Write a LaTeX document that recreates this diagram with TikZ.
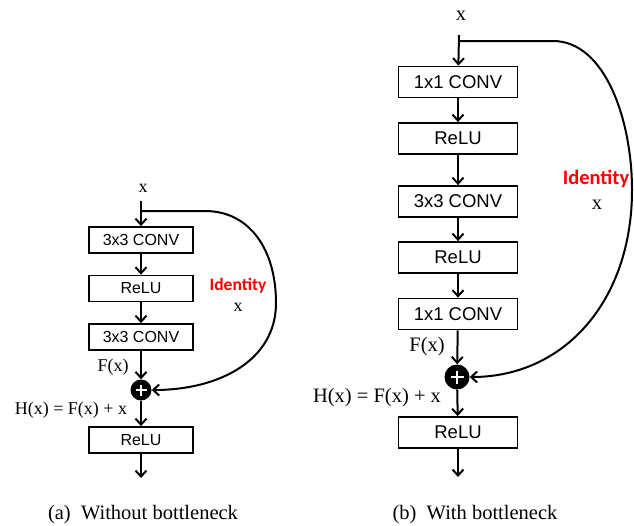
\documentclass[tikz,border=0pt]{standalone}
\usepackage{fontspec}
\setmainfont{Liberation Serif}
\newfontfamily\boxfont{Liberation Sans}
\newfontfamily\idfont{Carlito}
\usetikzlibrary{arrows.meta,calc}
\tikzset{
  blk/.style={draw, line width=1.8pt, minimum height=26pt, minimum width=104pt, inner sep=0pt, font=\boxfont\fontsize{16}{18}\selectfont},
  blkb/.style={draw, line width=1.8pt, minimum height=31pt, minimum width=119pt, inner sep=0pt, font=\boxfont\fontsize{18.5}{21}\selectfont},
  arr/.style={line width=2pt, -{Straight Barb[length=6pt,width=11pt,line width=2pt]}},
  lab/.style={inner sep=0pt, font=\fontsize{18}{20}\selectfont},
  labb/.style={inner sep=0pt, font=\fontsize{20.5}{22}\selectfont},
  ident/.style={inner sep=0pt, text=red, font=\idfont\bfseries\fontsize{17.5}{19}\selectfont},
  identb/.style={inner sep=0pt, text=red, font=\idfont\bfseries\fontsize{20.5}{22}\selectfont},
  plusc/.style={circle, fill=black, inner sep=0pt},
  captxt/.style={inner sep=0pt, font=\fontsize{20.5}{23}\selectfont}
}
\begin{document}
\begin{tikzpicture}[x=1pt,y=-1pt]
\useasboundingbox (0,0) rectangle (634,525);
% ---------- (a) ----------
\node[lab] (ax) at (143,188) {x};
\coordinate (as) at (141,201);
\coordinate (abr) at (141,211);
\node[blk] (a1) at (141,240) {3x3 CONV};
\node[blk] (a2) at (141,288.5) {ReLU};
\node[blk] (a3) at (141,337) {3x3 CONV};
\node[plusc, minimum size=21pt] (ap) at (141,390) {};
\draw[white, line width=2.4pt] ($(ap)+(-5.5,0)$) -- ($(ap)+(5.5,0)$) ($(ap)+(0,-5.5)$) -- ($(ap)+(0,5.5)$);
\node[blk] (a4) at (141,440) {ReLU};
\coordinate (aend) at (141,478);
\node[lab] (afx) at (113,367) {F(x)};
\node[lab] (ahx) at (71,410) {H(x) = F(x) + x};
\node[ident] (aid) at (238,286) {Identity};
\node[lab] (aidx) at (238,307) {x};
\draw[arr] (as) -- (a1);
\draw[arr] (a1) -- (a2);
\draw[arr] (a2) -- (a3);
\draw[arr] (a3) -- (ap);
\draw[arr] (ap) -- (a4);
\draw[arr] (a4) -- (aend);
\draw[arr] (abr) -- (205,211) .. controls (250,211) and (276,250) .. (276,303) .. controls (276,360) and (220,390) .. (ap.east);
% ---------- (b) ----------
\node[labb] (bx) at (461,16) {x};
\coordinate (bs) at (459,35);
\coordinate (bbr) at (459,41);
\node[blkb] (b1) at (458,82) {1x1 CONV};
\node[blkb] (b2) at (458,138.5) {ReLU};
\node[blkb] (b3) at (458,201.5) {3x3 CONV};
\node[blkb] (b4) at (458,257.5) {ReLU};
\node[blkb] (b5) at (458,314) {1x1 CONV};
\node[plusc, minimum size=25pt] (bp) at (457,377) {};
\draw[white, line width=2.8pt] ($(bp)+(-6.5,0)$) -- ($(bp)+(6.5,0)$) ($(bp)+(0,-6.5)$) -- ($(bp)+(0,6.5)$);
\node[blkb] (b6) at (458,432.5) {ReLU};
\coordinate (bend) at (458,477);
\node[labb] (bfx) at (427,347) {F(x)};
\node[labb] (bhx) at (377,398) {H(x) = F(x) + x};
\node[identb] (bid) at (596,179) {Identity};
\node[labb] (bidx) at (597,205) {x};
\draw[arr] (bs) -- (b1);
\draw[arr] (b1) -- (b2);
\draw[arr] (b2) -- (b3);
\draw[arr] (b3) -- (b4);
\draw[arr] (b4) -- (b5);
\draw[arr] (b5) -- (bp);
\draw[arr] (bp) -- (b6);
\draw[arr] (b6) -- (bend);
\draw[arr] (bbr) -- (553,41) .. controls (605,41) and (632,120) .. (632,190) .. controls (632,300) and (565,377) .. (bp.east);
% ---------- captions ----------
\node[captxt] (capa) at (143,515) {(a)\hspace{0.5em}Without bottleneck};
\node[captxt] (capb) at (475,515) {(b)\hspace{0.5em}With bottleneck};
\end{tikzpicture}
\end{document}
